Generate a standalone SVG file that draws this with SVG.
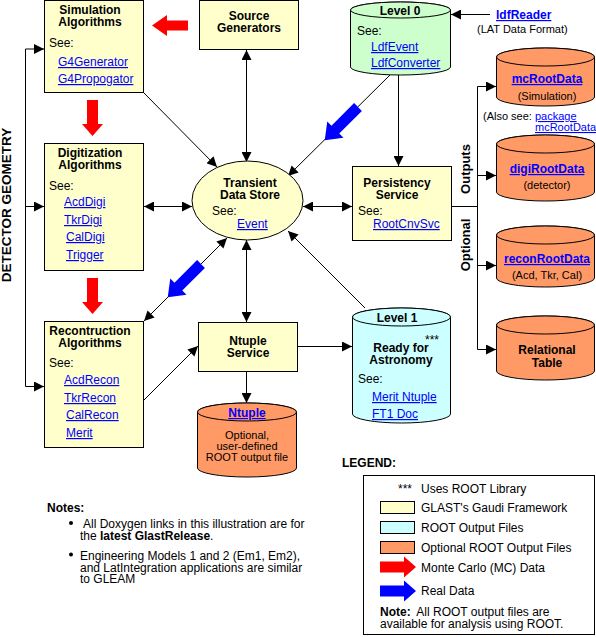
<svg xmlns="http://www.w3.org/2000/svg" width="596" height="637" viewBox="0 0 596 637">
<style>
text{font-family:"Liberation Sans",Arial,sans-serif;font-size:12px;fill:#000}
.b{font-weight:bold}
.s{font-size:11px}
.m{text-anchor:middle}
.e{text-anchor:end}
.lk{fill:#0000FF;text-decoration:underline}
.ln{stroke:#000;stroke-width:1;fill:none}
.yl{fill:#FFFFCC;stroke:#000;stroke-width:1}
.gr{fill:#CCFFCC;stroke:#000;stroke-width:1}
.cy{fill:#CCFFFF;stroke:#000;stroke-width:1}
.or{fill:#FF9966;stroke:#000;stroke-width:1}
.red{fill:#FF0000}
.blue{fill:#0000FF}
</style>
<defs>
<marker id="ah" viewBox="0 0 10 10" refX="10" refY="5" markerWidth="10" markerHeight="10" markerUnits="userSpaceOnUse" orient="auto-start-reverse"><path d="M0,0 L10,5 L0,10 z" fill="#000"/></marker>
<polygon id="arrowA" points="0,-5.5 24,-5.5 24,-10.5 36,0 24,10.5 24,5.5 0,5.5"/>
<polygon id="arrowL" points="0,-5 21,-5 21,-10.5 36,0 21,10.5 21,5 0,5"/>
<polygon id="arrowB" points="0,-5.5 32,-5.5 32,-11.5 47,0 32,11.5 32,5.5 0,5.5"/>
</defs>

<g id="connectors">
<polyline class="ln" points="44,49 25.5,49 25.5,386.5 44,386.5" marker-start="url(#ah)" marker-end="url(#ah)"/>
<line class="ln" x1="25.5" y1="206.5" x2="44" y2="206.5" marker-end="url(#ah)"/>
<line class="ln" x1="143" y1="92" x2="217" y2="167" marker-end="url(#ah)"/>
<line class="ln" x1="246.5" y1="50" x2="246.5" y2="162" marker-start="url(#ah)" marker-end="url(#ah)"/>
<line class="ln" x1="144" y1="206.5" x2="192" y2="206.5" marker-start="url(#ah)" marker-end="url(#ah)"/>
<line class="ln" x1="303" y1="206.5" x2="352" y2="206.5" marker-start="url(#ah)" marker-end="url(#ah)"/>
<line class="ln" x1="398.5" y1="75" x2="398.5" y2="166" marker-end="url(#ah)"/>
<line class="ln" x1="390" y1="75" x2="288" y2="176" marker-end="url(#ah)"/>
<line class="ln" x1="227" y1="238" x2="144" y2="321" marker-start="url(#ah)" marker-end="url(#ah)"/>
<line class="ln" x1="246.5" y1="240" x2="246.5" y2="322" marker-start="url(#ah)" marker-end="url(#ah)"/>
<line class="ln" x1="365" y1="308" x2="288" y2="231" marker-end="url(#ah)"/>
<line class="ln" x1="144" y1="400" x2="198" y2="346" marker-end="url(#ah)"/>
<line class="ln" x1="298" y1="346.5" x2="352" y2="346.5" marker-end="url(#ah)"/>
<line class="ln" x1="246.5" y1="372" x2="246.5" y2="403" marker-end="url(#ah)"/>
<line class="ln" x1="490" y1="14.5" x2="451" y2="14.5" marker-end="url(#ah)"/>
<line class="ln" x1="451" y1="206.5" x2="477.5" y2="206.5"/>
<line class="ln" x1="477.5" y1="86.5" x2="477.5" y2="349.5"/>
<line class="ln" x1="477.5" y1="86.5" x2="496" y2="86.5" marker-end="url(#ah)"/>
<line class="ln" x1="477.5" y1="175.5" x2="496" y2="175.5" marker-end="url(#ah)"/>
<line class="ln" x1="477.5" y1="265.5" x2="496" y2="265.5" marker-end="url(#ah)"/>
<line class="ln" x1="477.5" y1="349.5" x2="496" y2="349.5" marker-end="url(#ah)"/>
</g>

<g id="flow-arrows">
<use href="#arrowL" class="red" transform="translate(188,25.5) rotate(180)"/>
<use href="#arrowA" class="red" transform="translate(92.5,100) rotate(90)"/>
<use href="#arrowA" class="red" transform="translate(92.5,278) rotate(90)"/>
<use href="#arrowB" class="blue" transform="translate(358,107) rotate(135)"/>
<use href="#arrowB" class="blue" transform="translate(201,264) rotate(135)"/>
</g>

<text class="b" style="font-size:13.5px" text-anchor="middle" transform="translate(11,205) rotate(-90)">DETECTOR GEOMETRY</text>

<g id="sim">
<rect class="yl" x="44.5" y="0.5" width="99" height="92"/>
<text class="b m" x="90" y="14">Simulation</text>
<text class="b m" x="90" y="26">Algorithms</text>
<text x="49" y="47">See:</text>
<text class="lk" x="58" y="66">G4Generator</text>
<text class="lk" x="58" y="83">G4Propogator</text>
</g>

<g id="source">
<rect class="yl" x="199.5" y="0.5" width="99" height="49"/>
<text class="b m" x="249" y="20">Source</text>
<text class="b m" x="249" y="32">Generators</text>
</g>

<g id="level0">
<path class="gr" d="M350.5,10 L350.5,67 A50,8 0 0 0 450.5,67 L450.5,10 A50,8 0 0 0 350.5,10 Z"/>
<ellipse class="gr" cx="400.5" cy="10" rx="50" ry="8"/>
<text class="b m" x="400" y="15">Level 0</text>
<text x="357" y="35">See:</text>
<text class="lk" x="371" y="51">LdfEvent</text>
<text class="lk" x="371" y="67">LdfConverter</text>
</g>

<g id="ldfreader">
<text class="b lk" x="496" y="19">ldfReader</text>
<text class="s" x="477" y="33">(LAT Data Format)</text>
</g>

<g id="mcroot">
<path class="or" d="M496.5,57 L496.5,97 A49,9 0 0 0 594.5,97 L594.5,57 A49,9 0 0 0 496.5,57 Z"/>
<ellipse class="or" cx="545.5" cy="57" rx="49" ry="9"/>
<text class="b lk m" x="547" y="83">mcRootData</text>
<text class="s m" x="547" y="100">(Simulation)</text>
<text class="s" x="483" y="120">(Also see:</text>
<text class="s lk" x="535" y="120">package</text>
<text class="s lk" x="535" y="131">mcRootData</text>
</g>

<g id="digiroot">
<path class="or" d="M496.5,144 L496.5,192 A49,9 0 0 0 594.5,192 L594.5,144 A49,9 0 0 0 496.5,144 Z"/>
<ellipse class="or" cx="545.5" cy="144" rx="49" ry="9"/>
<text class="b lk m" x="547" y="173">digiRootData</text>
<text class="s m" x="547" y="189">(detector)</text>
</g>

<g id="reconroot">
<path class="or" d="M496.5,235 L496.5,278 A49,9 0 0 0 594.5,278 L594.5,235 A49,9 0 0 0 496.5,235 Z"/>
<ellipse class="or" cx="545.5" cy="235" rx="49" ry="9"/>
<text class="b lk m" x="547" y="263">reconRootData</text>
<text class="s m" x="547" y="279">(Acd, Tkr, Cal)</text>
</g>

<g id="relational">
<path class="or" d="M496.5,325 L496.5,371 A49,9 0 0 0 594.5,371 L594.5,325 A49,9 0 0 0 496.5,325 Z"/>
<ellipse class="or" cx="545.5" cy="325" rx="49" ry="9"/>
<text class="b m" x="547" y="354">Relational</text>
<text class="b m" x="547" y="367">Table</text>
</g>

<text class="b" style="font-size:13px" text-anchor="middle" transform="translate(470,169) rotate(-90)">Outputs</text>
<text class="b" style="font-size:13px" text-anchor="middle" transform="translate(470,245) rotate(-90)">Optional</text>

<g id="digi">
<rect class="yl" x="44.5" y="143.5" width="99" height="127"/>
<text class="b m" x="90" y="157">Digitization</text>
<text class="b m" x="90" y="169">Algorithms</text>
<text x="49" y="190">See:</text>
<text class="lk" x="64" y="206">AcdDigi</text>
<text class="lk" x="64" y="224">TkrDigi</text>
<text class="lk" x="66" y="241">CalDigi</text>
<text class="lk" x="66" y="259">Trigger</text>
</g>

<g id="transient">
<ellipse class="yl" cx="247.5" cy="200.5" rx="55.5" ry="39.5"/>
<text class="b m" x="250" y="187">Transient</text>
<text class="b m" x="250" y="199">Data Store</text>
<text x="212" y="215">See:</text>
<text class="lk" x="237" y="228">Event</text>
</g>

<g id="persistency">
<rect class="yl" x="352.5" y="166.5" width="99" height="74"/>
<text class="b m" x="397" y="187">Persistency</text>
<text class="b m" x="397" y="199">Service</text>
<text x="358" y="215">See:</text>
<text class="lk" x="373" y="228">RootCnvSvc</text>
</g>

<g id="recon">
<rect class="yl" x="44.5" y="321.5" width="99" height="126"/>
<text class="b m" x="90" y="335">Recontruction</text>
<text class="b m" x="90" y="347">Algorithms</text>
<text x="49" y="367">See:</text>
<text class="lk" x="64" y="384">AcdRecon</text>
<text class="lk" x="64" y="402">TkrRecon</text>
<text class="lk" x="66" y="419">CalRecon</text>
<text class="lk" x="66" y="437">Merit</text>
</g>

<g id="ntuplesvc">
<rect class="yl" x="198.5" y="322.5" width="99" height="49"/>
<text class="b m" x="248" y="345">Ntuple</text>
<text class="b m" x="248" y="357">Service</text>
</g>

<g id="ntuple">
<path class="or" d="M197.5,412 L197.5,468 A49.5,9 0 0 0 296.5,468 L296.5,412 A49.5,9 0 0 0 197.5,412 Z"/>
<ellipse class="or" cx="247" cy="412" rx="49.5" ry="9"/>
<text class="b lk m" x="247" y="417">Ntuple</text>
<text class="s m" x="247" y="439">Optional,</text>
<text class="s m" x="247" y="450">user-defined</text>
<text class="s m" x="247" y="461">ROOT output file</text>
</g>

<g id="level1">
<path class="cy" d="M352.5,317 L352.5,414 A49,9 0 0 0 450.5,414 L450.5,317 A49,9 0 0 0 352.5,317 Z"/>
<ellipse class="cy" cx="401.5" cy="317" rx="49" ry="9"/>
<text class="b m" x="397" y="322">Level 1</text>
<text x="425" y="344">***</text>
<text class="b m" x="401" y="352">Ready for</text>
<text class="b m" x="401" y="364">Astronomy</text>
<text x="358" y="383">See:</text>
<text class="lk" x="372" y="401">Merit Ntuple</text>
<text class="lk" x="372" y="418">FT1 Doc</text>
</g>

<g id="notes">
<text class="b" x="47" y="512">Notes:</text>
<circle cx="71" cy="523" r="2"/>
<text x="83" y="528">All Doxygen links in this illustration are for</text>
<text x="80" y="540">the <tspan class="b">latest GlastRelease</tspan>.</text>
<circle cx="71" cy="554.5" r="2"/>
<text x="80" y="560">Engineering Models 1 and 2 (Em1, Em2),</text>
<text x="80" y="572">and LatIntegration applications are similar</text>
<text x="80" y="583">to GLEAM</text>
</g>

<g id="legend">
<text class="b" x="342" y="467">LEGEND:</text>
<rect x="363.5" y="475.5" width="231" height="159" fill="#fff" stroke="#000"/>
<text class="e" x="412" y="493">***</text>
<text x="421" y="493">Uses ROOT Library</text>
<rect class="yl" x="380.5" y="501.5" width="34" height="12"/>
<text x="421" y="512">GLAST's Gaudi Framework</text>
<rect class="cy" x="380.5" y="521.5" width="34" height="12"/>
<text x="421" y="532">ROOT Output Files</text>
<rect class="or" x="380.5" y="541.5" width="34" height="12"/>
<text x="421" y="552">Optional ROOT Output Files</text>
<use href="#arrowA" class="red" transform="translate(380,567)"/>
<text x="421" y="572">Monte Carlo (MC) Data</text>
<use href="#arrowA" class="blue" transform="translate(380,591)"/>
<text x="421" y="595">Real Data</text>
<text x="380" y="616"><tspan class="b">Note:</tspan><tspan dx="3"> All ROOT output files are</tspan></text>
<text x="380" y="628">available for analysis using ROOT.</text>
</g>
</svg>
